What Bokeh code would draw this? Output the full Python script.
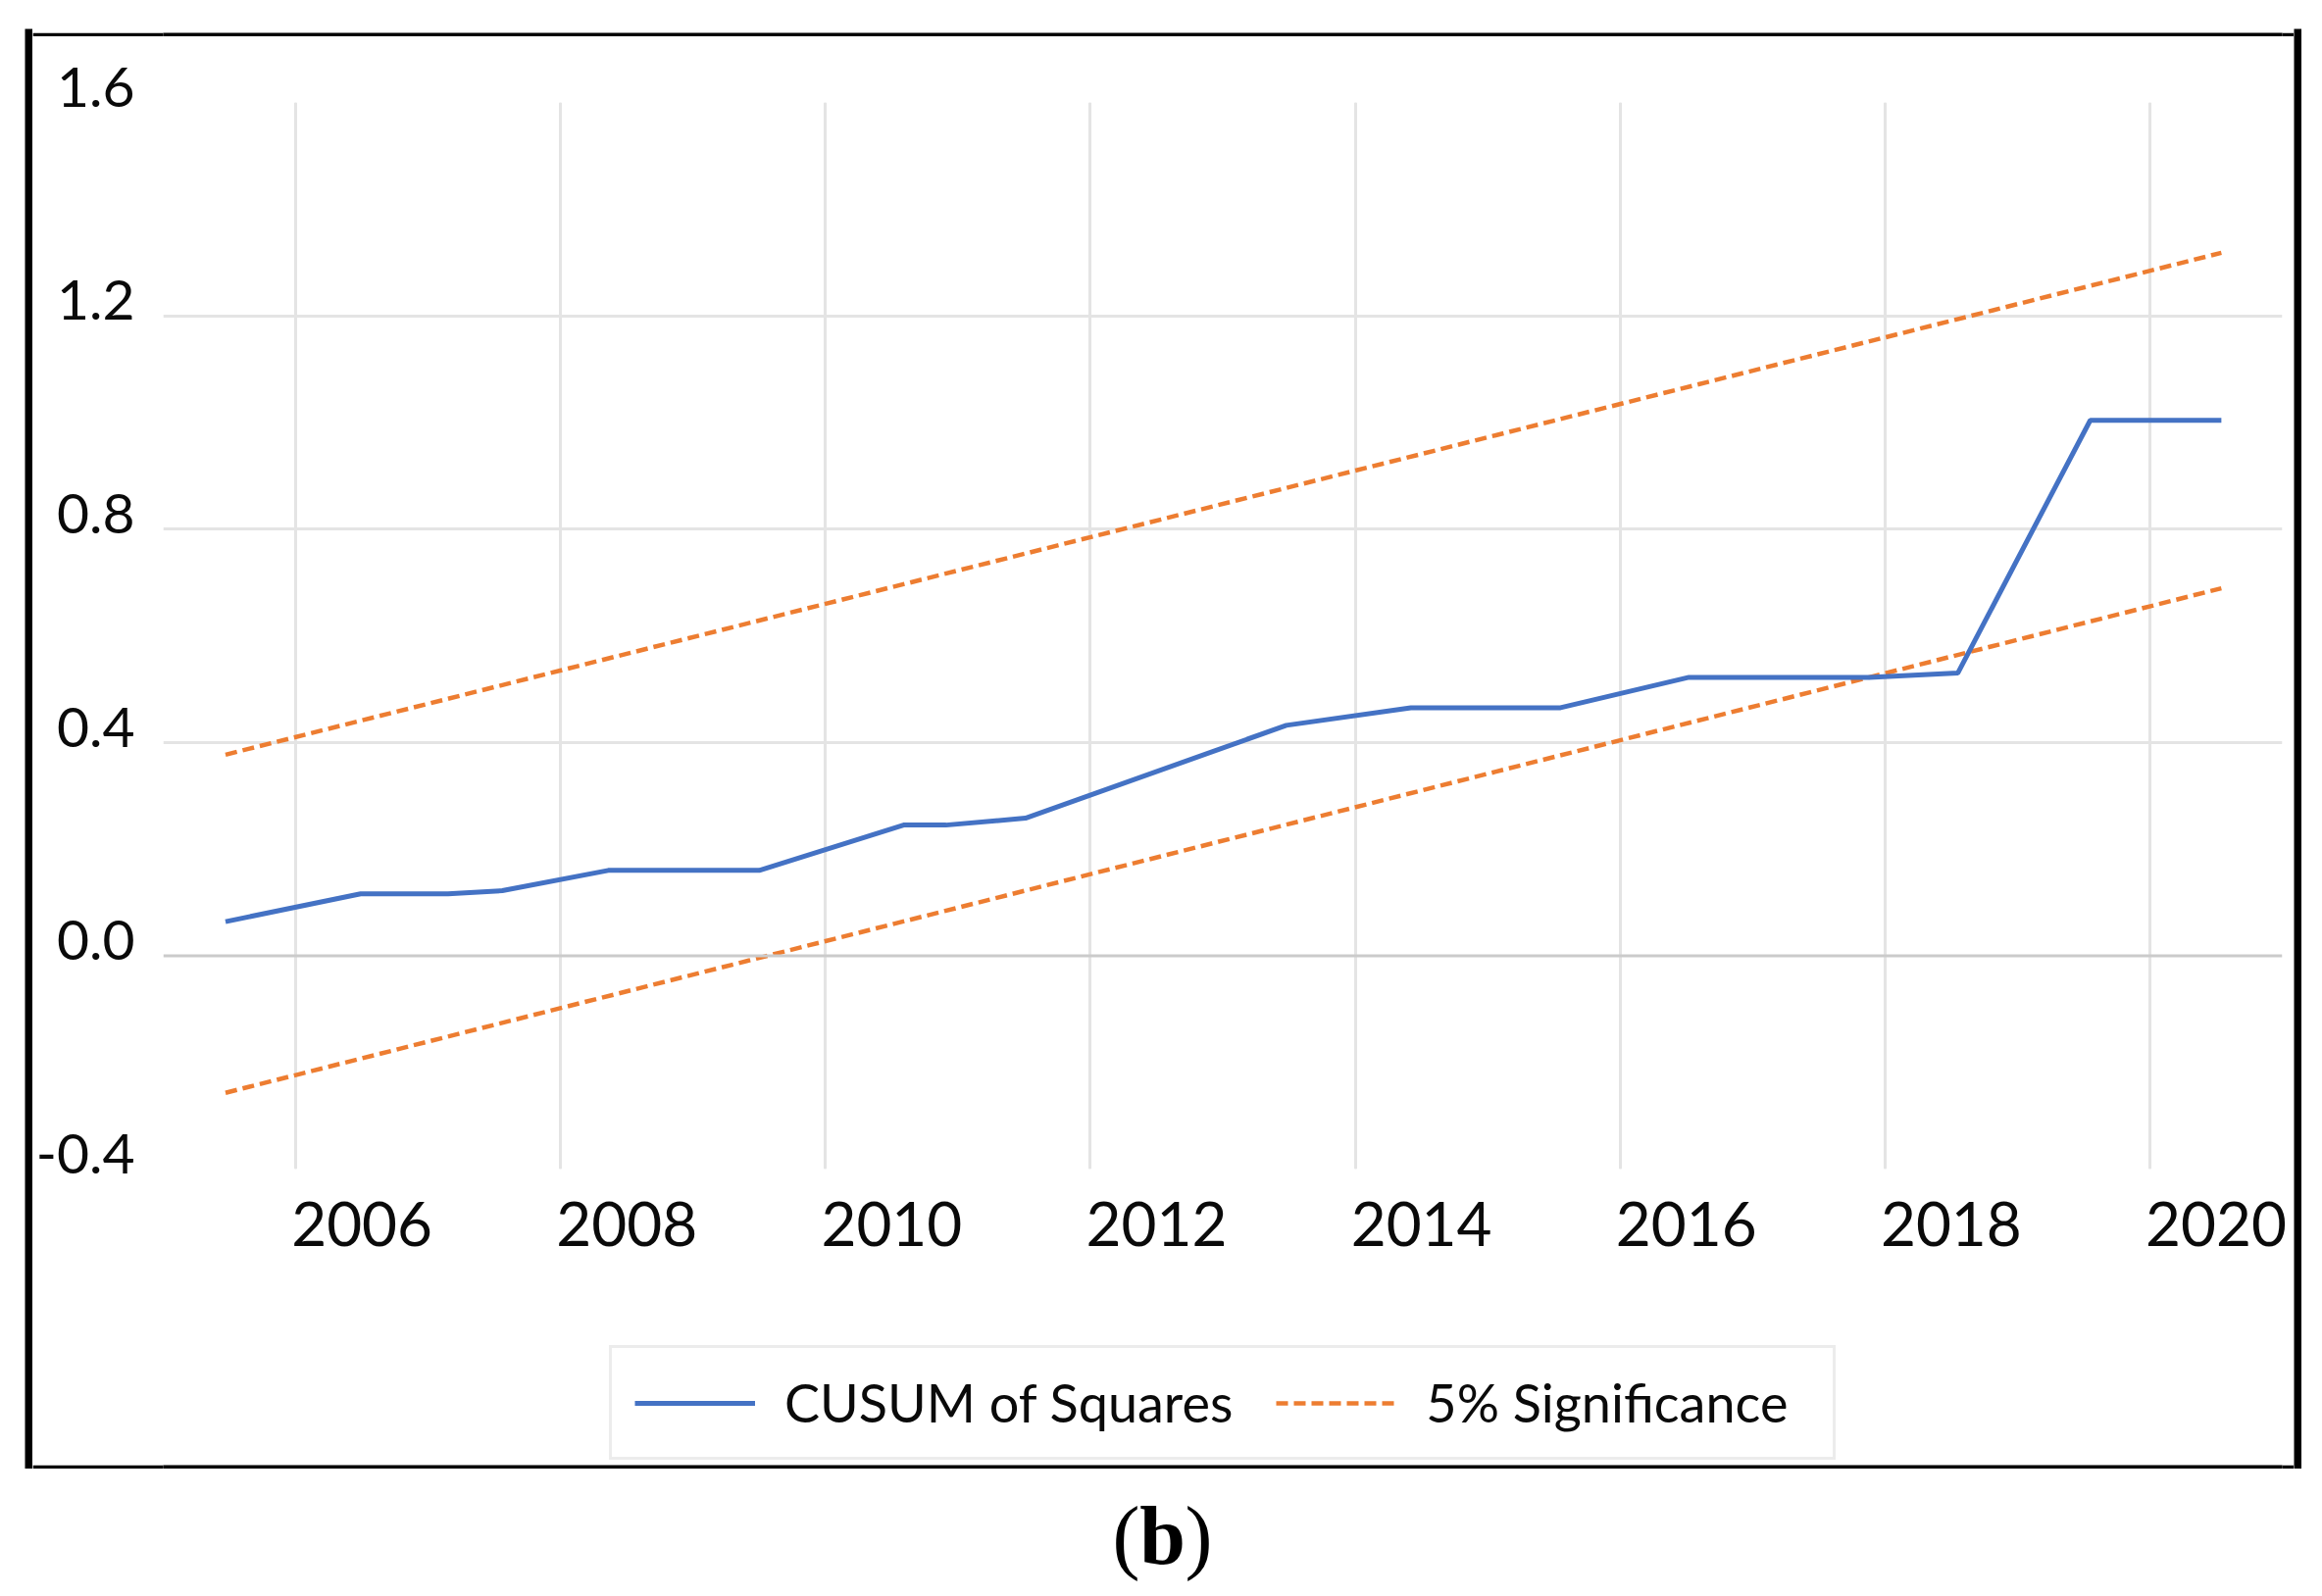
from bokeh.plotting import figure
from bokeh.layouts import column, row
from bokeh.models import (Legend, LegendItem, Label, Span, Grid, Spacer,
                          FixedTicker, CustomJSTickFormatter, LinearAxis, Range1d)
from bokeh.embed import file_html
from bokeh.resources import INLINE

# ---- data ----
cusum_years = [2005.47, 2006.49, 2007.15, 2007.56, 2008.36, 2009.50, 2010.59, 2010.91,
               2011.51, 2013.48, 2014.42, 2015.55, 2016.52, 2017.88, 2018.55, 2019.55, 2020.54]
cusum_sq = [0.064, 0.116, 0.116, 0.122, 0.160, 0.160, 0.245, 0.245,
            0.258, 0.432, 0.465, 0.465, 0.522, 0.522, 0.530, 1.004, 1.004]
band_years = [2005.47, 2020.54]
band_upper = [0.377, 1.318]
band_lower = [-0.257, 0.689]
x_ticks = [2006, 2008, 2010, 2012, 2014, 2016, 2018, 2020]
y_ticks = [-0.4, 0.0, 0.4, 0.8, 1.2, 1.6]
y_grid = [0.4, 0.8, 1.2]
series_names = ["CUSUM of Squares", "5% Significance"]
caption_letter = "b"

BLUE = "#4472C4"
ORANGE = "#ED7D31"
FONT = "Lato"
TXT = "#0a0a0a"
DASH = "12 6"


def black_bar(w, h):
    f = figure(width=w, height=h, toolbar_location=None, output_backend="svg",
               min_border=0, x_axis_location=None, y_axis_location=None,
               background_fill_color="black", border_fill_color="black",
               outline_line_color=None)
    f.grid.visible = False
    return f


# ---- main chart ----
p = figure(width=2306, height=1303,
           x_range=(2005, 2021), y_range=(-0.4, 1.6),
           output_backend="svg", toolbar_location=None,
           x_axis_location=None,
           min_border_left=132, min_border_right=12,
           min_border_top=67, min_border_bottom=148)
p.outline_line_color = None
p.background_fill_color = "white"
p.border_fill_color = "white"

# grids
p.ygrid.ticker = FixedTicker(ticks=y_grid)
p.ygrid.grid_line_color = "#E4E4E4"
p.ygrid.grid_line_width = 3
p.add_layout(Grid(dimension=0, ticker=FixedTicker(ticks=x_ticks),
                  grid_line_color="#E4E4E4", grid_line_width=3))

# zero axis line
p.add_layout(Span(location=0, dimension="width", line_color="#CBCBCB", line_width=3))

# x axis: labels sit just right of their gridline (shifted label range)
p.extra_x_ranges = {"lab": Range1d(2005 - 0.50, 2021 - 0.50)}
xa = LinearAxis(x_range_name="lab", ticker=FixedTicker(ticks=x_ticks))
xa.axis_line_color = None
xa.major_tick_line_color = None
xa.minor_tick_line_color = None
xa.major_tick_out = 0
xa.major_tick_in = 0
xa.major_label_standoff = 33
xa.major_label_text_font = FONT
xa.major_label_text_font_size = "62px"
xa.major_label_text_color = TXT
p.add_layout(xa, "below")

# y axis
ya = p.yaxis[0]
ya.ticker = FixedTicker(ticks=y_ticks)
ya.formatter = CustomJSTickFormatter(code="return tick.toFixed(1) + '\\n\\u00a0';")
ya.axis_line_color = None
ya.major_tick_line_color = None
ya.minor_tick_line_color = None
ya.major_tick_out = 0
ya.major_tick_in = 0
ya.major_label_standoff = 29
ya.major_label_text_font = FONT
ya.major_label_text_font_size = "57px"
ya.major_label_text_line_height = 0.52
ya.major_label_text_color = TXT

# series
p.line(band_years, band_upper, line_color=ORANGE, line_width=4.5, line_dash=DASH)
p.line(band_years, band_lower, line_color=ORANGE, line_width=4.5, line_dash=DASH)
p.line(cusum_years, cusum_sq, line_color=BLUE, line_width=5)

# ---- legend strip (inside the black frame) ----
q = figure(width=2306, height=150, x_range=(0, 1), y_range=(0, 1),
           output_backend="svg", toolbar_location=None, min_border=0,
           x_axis_location=None, y_axis_location=None,
           background_fill_color="white", border_fill_color="white",
           outline_line_color=None)
q.grid.visible = False
# the series drawn again here only to give the legend its glyphs (outside q's view)
lr_cs = q.line(cusum_years, cusum_sq, line_color=BLUE, line_width=5)
lr_sig = q.line(band_years, band_upper, line_color=ORANGE, line_width=4.5, line_dash=DASH)
legend = Legend(items=[LegendItem(label=series_names[0], renderers=[lr_cs]),
                       LegendItem(label=series_names[1], renderers=[lr_sig])],
                orientation="horizontal", location=(455, 1),
                padding=23, spacing=44, glyph_width=123, glyph_height=20,
                label_standoff=30, label_width=392,
                label_text_font=FONT, label_text_font_size="54px",
                label_text_color=TXT,
                border_line_color="#D9D9D9", border_line_width=3,
                background_fill_color="white", background_fill_alpha=1.0)
q.add_layout(legend)

# ---- caption below the frame ----
cap = figure(width=2352, height=130, x_range=(0, 2352), y_range=(0, 130),
             output_backend="svg", toolbar_location=None, min_border=0,
             x_axis_location=None, y_axis_location=None,
             background_fill_color="white", border_fill_color="white",
             outline_line_color=None)
cap.grid.visible = False
cap.add_layout(Label(x=1162, y=62, text="(", text_font="Liberation Serif",
                     text_font_size="84px", text_align="right",
                     text_baseline="middle", text_color="black"))
cap.add_layout(Label(x=1185, y=62, text=caption_letter, text_font="Liberation Serif",
                     text_font_size="84px", text_font_style="bold", text_align="center",
                     text_baseline="middle", text_color="black"))
cap.add_layout(Label(x=1208, y=62, text=")", text_font="Liberation Serif",
                     text_font_size="84px", text_align="left",
                     text_baseline="middle", text_color="black"))

inner = column(black_bar(2306, 8), p, q, black_bar(2306, 8), spacing=0)
mid = row(Spacer(width=25, height=1469), black_bar(8, 1469), inner, black_bar(8, 1469),
          spacing=0)
root = column(Spacer(width=2352, height=29), mid, cap, spacing=0)

open("out.html", "w").write(file_html(root, INLINE))
